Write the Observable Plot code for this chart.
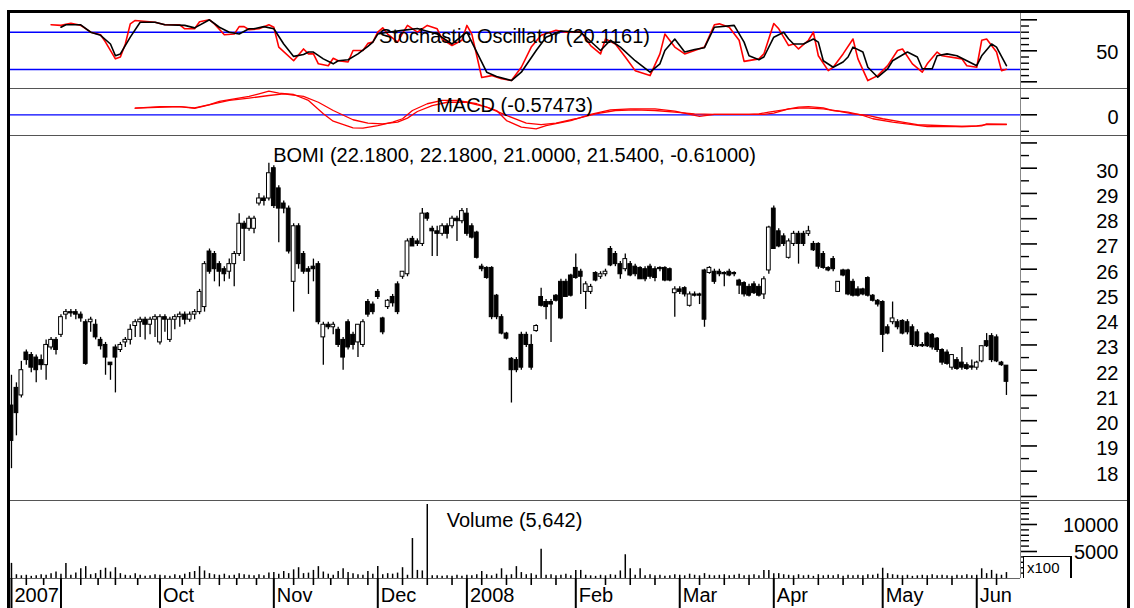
<!DOCTYPE html>
<html><head><meta charset="utf-8">
<script src="https://cdn.jsdelivr.net/npm/d3@7"></script>
<script src="https://cdn.jsdelivr.net/npm/@observablehq/plot@0.6"></script>
<style>
body{margin:0;background:#fff;}
#chart{position:relative;width:1134px;height:608px;overflow:hidden;background:#fff;font-family:"Liberation Sans",Arial,sans-serif;}
#chart svg{position:absolute;left:0;overflow:visible;}
.ln{position:absolute;}
</style></head><body><div id="chart"></div>
<script>
// ---- data ----
const opens = [20.6,21.3,21.0,22.7,22.6,22.5,22.4,22.2,22.9,23.2,
23.4,24.2,24.3,24.3,24.2,23.9,23.9,23.8,23.2,23.0,
22.3,22.9,22.8,23.1,23.2,23.75,23.9,24.0,23.8,24.0,
23.1,24.1,23.2,24.0,24.1,24.2,24.0,24.2,24.3,24.5,
26.7,26.6,26.2,26.0,25.9,26.2,26.6,27.8,27.6,27.6,
28.6,28.8,28.8,30.0,29.2,28.6,28.4,25.5,27.7,26.6,
26.0,26.1,26.2,23.3,23.8,23.7,23.6,23.2,23.9,23.4,
23.1,23.0,24.7,24.6,25.1,24.05,24.5,24.9,25.4,25.7,
25.8,27.2,27.1,27.0,28.2,27.6,27.5,27.4,27.7,27.7,
28.0,27.9,28.2,27.7,27.45,26.1,26.05,26.05,24.95,24.1,
23.45,22.45,22.4,23.4,23.4,23.0,23.55,24.9,24.7,24.7,
24.95,25.5,25.5,25.75,26.05,25.9,25.1,25.1,25.85,25.7,
25.8,26.8,26.6,26.2,26.0,26.2,26.1,26.05,26.0,26.1,
26.0,26.05,26.05,26.0,25.05,25.2,25.25,24.55,25.0,25.0,
25.95,25.85,25.9,25.9,25.85,25.9,25.85,25.55,25.45,25.3,
25.4,25.3,25.0,25.95,28.4,27.5,27.3,26.45,27.0,27.4,
27.4,27.4,27.0,27.0,26.6,26.05,26.4,25.1,25.95,25.95,
25.5,25.2,25.2,25.65,24.95,24.75,24.7,23.7,23.9,23.9,
23.95,23.9,23.7,23.5,23.0,23.45,23.4,23.25,22.8,22.7,
22.1,22.4,22.3,22.2,22.15,22.1,22.35,23.15,23.35,23.3,
22.3,22.18];
const highs = [21.8,21.5,22.35,22.8,22.7,22.6,22.6,23.2,23.3,23.3,
24.2,24.4,24.4,24.4,24.3,24.0,24.1,24.0,23.3,23.1,
22.3,23.0,23.1,23.3,23.8,24.0,24.1,24.1,24.1,24.2,
24.2,24.2,24.1,24.2,24.3,24.3,24.3,24.4,25.2,26.3,
26.8,26.7,26.3,26.1,26.4,26.7,28.2,27.9,28.1,28.1,
29.0,28.9,30.2,30.1,29.3,28.7,28.5,27.8,27.8,26.7,
26.1,26.4,26.3,23.9,23.9,23.9,23.7,23.3,24.0,23.5,
23.8,24.0,24.8,24.7,25.2,24.1,24.8,25.0,25.5,25.9,
27.2,27.3,27.2,28.4,28.25,27.7,27.7,27.8,27.8,28.1,
28.1,28.4,28.4,27.8,27.5,26.2,26.1,26.1,25.0,24.2,
23.5,22.5,22.5,23.5,23.5,23.4,23.8,25.25,24.8,24.8,
25.0,25.6,25.6,25.8,26.6,26.0,25.5,25.4,25.9,25.9,
26.0,26.9,26.7,26.3,26.6,26.3,26.2,26.1,26.1,26.2,
26.1,26.1,26.1,26.05,25.3,25.3,25.3,25.1,25.1,25.05,
26.0,26.1,26.0,26.0,25.9,26.0,25.9,25.6,25.5,25.4,
25.5,25.4,25.7,27.7,28.5,27.6,27.4,27.2,27.5,27.5,
27.5,27.7,27.1,27.05,26.7,26.1,26.5,25.5,26.0,26.0,
25.6,25.3,25.25,25.7,25.0,24.8,24.75,23.8,24.7,24.0,
24.0,24.0,23.8,23.6,23.1,23.5,23.45,23.3,22.85,22.8,
22.6,22.5,22.9,22.3,22.4,22.35,22.95,23.45,23.45,23.4,
22.35,22.18];
const lows = [18.1,19.4,20.9,22.2,21.9,21.5,22.0,21.6,22.8,22.6,
23.3,24.0,24.1,24.0,23.9,22.2,23.5,23.2,22.8,21.8,
21.6,21.1,22.7,22.9,23.0,23.3,23.3,23.2,23.4,23.3,
23.0,23.5,23.1,23.6,23.7,23.8,23.9,24.0,24.2,24.3,
25.8,25.5,25.3,25.5,25.6,25.3,26.5,26.3,27.5,27.4,
28.5,28.5,28.7,28.4,27.05,28.2,26.6,24.3,26.0,25.8,
25.0,25.5,23.8,22.2,23.6,23.4,22.9,22.0,22.8,22.8,
22.5,22.9,24.1,24.2,24.8,23.4,24.4,24.5,24.2,25.6,
25.7,26.9,26.9,26.9,27.9,26.5,26.5,27.3,27.2,27.6,
27.1,27.8,27.3,27.2,26.4,25.9,25.6,24.0,24.0,23.4,
23.2,20.7,21.9,22.0,22.9,22.0,23.5,24.5,24.0,23.1,
24.7,24.0,24.9,24.9,25.6,25.0,24.4,25.0,25.5,25.6,
25.7,26.1,26.1,25.6,25.9,25.7,25.7,25.6,25.5,25.6,
25.5,25.9,25.5,25.5,24.1,25.0,24.9,24.5,24.9,24.6,
23.7,25.8,25.4,25.7,25.3,25.7,25.7,25.0,24.9,24.9,
25.0,24.9,24.8,25.8,26.8,26.85,26.9,26.4,26.9,26.2,
26.9,27.3,26.7,26.0,26.0,25.9,25.9,25.1,25.7,24.95,
24.9,24.9,24.95,24.9,24.7,24.5,22.7,23.4,23.8,23.6,
23.4,23.4,22.9,22.9,22.9,22.9,22.8,22.7,22.2,22.2,
22.0,22.0,22.0,22.0,22.0,22.0,22.3,22.9,22.3,22.3,
22.15,21.0];
const closes = [19.2,20.3,22.0,22.4,22.1,22.0,22.2,23.0,23.2,22.8,
24.1,24.3,24.25,24.2,24.05,22.25,24.0,23.3,22.95,22.5,
22.2,22.5,23.0,23.2,23.6,23.9,24.0,23.8,24.0,24.1,
24.1,24.0,24.0,24.1,24.2,24.0,24.2,24.3,25.1,26.2,
25.9,26.0,25.9,25.8,26.2,26.6,27.8,27.6,28.0,28.0,
28.8,28.7,29.8,28.5,28.4,28.4,26.7,27.7,26.2,25.9,
25.9,26.0,23.9,23.8,23.7,23.8,23.0,22.5,22.9,23.0,
23.8,23.9,24.2,24.3,24.9,23.5,24.75,24.65,24.3,25.9,
27.1,26.9,27.0,28.2,28.0,27.5,27.4,27.7,27.4,28.0,
27.9,28.3,27.4,27.25,26.45,26.0,25.65,24.1,24.1,23.45,
23.25,22.0,22.0,22.1,23.0,22.1,23.75,24.55,24.5,24.6,
24.75,24.05,24.9,24.95,25.65,25.7,25.4,25.3,25.55,25.8,
25.9,26.15,26.2,25.8,26.4,25.75,25.8,25.6,25.6,25.7,
25.65,26.0,25.55,25.55,25.2,25.1,25.0,25.0,24.95,24.95,
24.0,26.05,25.5,25.8,25.8,25.75,25.8,25.35,25.0,24.95,
25.05,24.95,25.6,27.65,26.8,26.9,27.0,27.1,27.4,27.0,
27.0,27.5,26.75,26.1,26.05,25.95,26.0,25.5,25.75,25.0,
24.95,24.95,25.0,24.95,24.75,24.6,23.4,23.45,24.05,23.7,
23.45,23.5,23.0,22.95,22.95,22.95,22.9,22.8,22.3,22.25,
22.6,22.05,22.1,22.05,22.1,22.3,22.95,22.95,22.4,22.35,
22.2,21.54];
const volumes = [2800,700,500,600,400,500,700,600,900,1200,
800,2800,600,1000,1800,2200,700,900,1500,1900,
1200,2000,900,600,500,900,600,400,500,700,
600,500,400,700,500,800,1100,1300,2200,1400,
900,700,600,800,500,600,900,700,600,500,
700,500,1000,1100,800,1300,900,1600,2000,900,
1000,1500,2200,1200,800,600,1300,1800,1100,900,
700,600,1300,800,2200,700,900,800,1000,2000,
600,7400,1500,1400,13700,500,500,400,500,400,
600,400,600,500,700,1300,700,500,800,1800,
600,700,2200,1100,700,900,600,5400,600,700,
500,600,800,500,1500,1500,600,500,400,600,
500,700,600,1400,4400,1800,600,1800,500,700,
500,600,400,500,700,600,500,800,600,500,
900,600,500,600,700,500,600,800,500,600,
700,500,1500,1500,900,900,700,600,500,700,
500,600,400,700,500,600,500,700,400,600,
500,600,500,700,600,800,1900,900,700,600,
500,600,400,500,600,500,700,500,600,500,
400,600,500,700,500,600,1800,900,1500,800,
600,1100];
const stochK = [[8,92],[10,91],[12,94.5],[14,91],[16,80],[18,76],[19,64],[21,37],[22,40],[23,61],[24,93.5],[25,99],[29,96],[31,92],[34,92],[35,85.5],[37,85.5],[38,97],[40,100],[41,93.5],[43,76],[45,77],[46,89],[47,89],[48,84],[50,85.5],[52,92],[53,88],[54,56],[57,34],[59,53],[60,45],[61,45],[62,29],[64,26],[65,38],[66,34],[68,32],[69,50.5],[71,50.5],[72,62],[73,64],[74,80],[75,87],[76,77],[78,64],[79,78],[80,91],[82,80],[84,91],[86,85.5],[87,69],[89,58.5],[91,67],[92,91],[93,77],[95,7],[97,10],[99,5],[101,2],[103,23.5],[105,56],[107,75],[110,83],[112,80],[115,81],[117,58.5],[119,45],[120,69],[122,61],[124,40],[126,18],[129,10],[131,45],[132,77],[134,56],[136,45],[138,50.5],[140,56],[142,92],[143,93.5],[145,88],[147,67],[148,33],[151,37],[152,45],[154,94],[155,85.5],[157,58.5],[158,61],[159,53],[161,67],[162,80],[163,42],[165,18],[166,23.5],[168,45],[170,69],[171,37],[173,2],[175,10],[177,26],[179,50.5],[180,53],[182,29],[184,15.5],[185,29],[187,48],[188,42],[192,37],[193,26],[195,23.5],[196,67],[197,69],[199,48],[200,18],[201,20.1]];
const stochD = [[10,88],[11,92],[14,92],[16,80],[18,75],[20,61],[21,42],[22,45],[24,72],[26,96],[29,96],[31,92],[35,91],[37,87],[40,100],[42,88],[44,80],[46,77],[48,85.5],[49,85.5],[51,89],[53,85.5],[55,61],[57,41],[59,44],[60,48],[61,48],[63,37],[65,29],[66,34],[68,35.5],[70,45],[72,57],[73,64],[74,77],[76,80],[79,83],[82,86],[86,77],[89,61],[92,80],[96,15.5],[98,8.5],[101,2],[103,15.5],[106,50.5],[108,72],[111,82],[115,80],[119,50.5],[121,67],[123,56],[126,34],[129,15.5],[131,29],[132,50.5],[134,69],[136,48],[138,52],[140,55],[142,88],[146,91],[148,64],[149,42],[151,35.5],[152,40],[154,72],[156,80],[157,69],[158,61],[160,61],[162,69],[163,64],[164,34],[166,23.5],[168,32],[169,40],[170,56],[172,48],[173,23.5],[175,7.4],[177,21],[178,34],[181,48],[183,40],[184,21],[186,21],[187,42],[189,45],[191,42],[193,34],[195,26],[196,42],[198,61],[199,56],[201,26]];
const macdLine = [[25,0.40],[30,0.50],[34,0.50],[37,0.42],[40,0.62],[42,0.81],[45,0.97],[48,1.11],[50,1.27],[52,1.43],[54,1.31],[57,1.23],[60,0.87],[63,0.06],[65,-0.39],[69,-0.79],[71,-0.81],[74,-0.65],[77,-0.45],[79,-0.24],[81,0.26],[84,0.67],[87,0.87],[90,0.87],[94,0.67],[98,0.26],[100,-0.35],[103,-0.75],[106,-0.85],[108,-0.65],[113,-0.35],[117,0.02],[121,0.30],[125,0.36],[130,0.36],[134,0.22],[139,-0.10],[142,0.02],[149,0.02],[151,0.06],[153,0.16],[156,0.30],[159,0.46],[161,0.50],[164,0.42],[166,0.26],[169,0.16],[172,-0.04],[174,-0.24],[178,-0.45],[182,-0.59],[185,-0.71],[189,-0.71],[193,-0.71],[196,-0.67],[197,-0.55],[201,-0.57]];
const signalLine = [[25,0.40],[34,0.50],[37,0.39],[41,0.67],[44,0.87],[48,1.01],[52,1.17],[55,1.27],[59,1.11],[62,0.76],[65,0.26],[69,-0.30],[72,-0.51],[75,-0.55],[78,-0.45],[80,-0.20],[82,0.20],[85,0.56],[88,0.76],[92,0.76],[96,0.46],[100,-0.04],[104,-0.51],[107,-0.59],[110,-0.51],[114,-0.24],[118,0.06],[122,0.26],[126,0.30],[130,0.26],[134,0.16],[138,0.06],[142,0.02],[149,0.02],[152,0.02],[154,0.10],[157,0.36],[160,0.42],[164,0.36],[167,0.22],[170,0.06],[173,-0.04],[176,-0.24],[180,-0.45],[183,-0.59],[187,-0.65],[192,-0.71],[195,-0.67],[197,-0.59],[201,-0.59]];
const monthIdx = [0,10,30,53,74,92,114,135,154,176,195];
const monthLabels = ["2007","","Oct","Nov","Dec","2008","Feb","Mar","Apr","May","Jun"];
const weekIdx = [3,6.5,14,17.5,21,25.5,34.5,38,42,45.5,49.5,57,61,64.5,68,72,79,84,89,95,100,105,110,120,125,130,139,144,149,158,163,168,172,180,185,190,199];
const priceMajor = [17,18,19,20,21,22,23,24,25,26,27,28,29,30,31];
const priceMinor = [17.5,18.5,19.5,20.5,21.5,22.5,23.5,24.5,25.5,26.5,27.5,28.5,29.5,30.5];
const priceLabels = [18,19,20,21,22,23,24,25,26,27,28,29,30];
const stochMajor = [0,50,100];
const stochMinor = [10,20,30,40,60,70,80,90];
const stochBands = [20,80];
const macdMajor = [0];
const macdMinor = [-1,1];
const volMajor = [5000,10000];
const volMinor = [1000,2000,3000,4000,6000,7000,8000,9000,11000,12000,13000,14000];
const titles = {
  stoch: "Stochastic Oscillator (20.1161)",
  macd: "MACD (-0.57473)",
  price: "BOMI (22.1800, 22.1800, 21.0000, 21.5400, -0.61000)",
  volume: "Volume (5,642)"
};

// ---- build ----
const bars = closes.map((c, i) => ({i, open: opens[i], high: highs[i], low: lows[i], close: c, vol: volumes[i]}));
const chart = document.getElementById("chart");
const FONT = "Liberation Sans, Arial, sans-serif";
const style = {fontFamily: FONT, fontSize: "20px", background: "transparent", color: "black", overflow: "visible"};
const X = {domain: [-0.6, 203.84], axis: null};
const base = {width: 1134, marginLeft: 8, marginRight: 114, style};
const none = () => "";
function rightAxes(major, minor, labels, dy, fmt) {
  return [
    Plot.axisY({anchor: "right", ticks: major, tickSize: 16, tickFormat: none, strokeWidth: 1.6, label: null}),
    Plot.axisY({anchor: "right", ticks: minor, tickSize: 8, tickFormat: none, strokeWidth: 1.4, label: null}),
    Plot.axisY({anchor: "right", ticks: labels, tickSize: 0, tickPadding: 98, textAnchor: "end", dy, fontSize: 20, label: null, tickFormat: fmt || (d => String(d))})
  ];
}
function title(t, dy) {
  return Plot.text([t], {text: d => d, frameAnchor: "top", lineAnchor: "middle", dy, fontSize: 20, fill: "black"});
}
function place(svg, top) { svg.style.top = top + "px"; chart.appendChild(svg); }

const stoch = Plot.plot({...base, height: 76, marginTop: 0, marginBottom: 0, x: X,
  y: {domain: [-10.8, 111.8], axis: null},
  marks: [
    Plot.ruleY(stochBands, {stroke: "#0000ff", strokeWidth: 1.5}),
    Plot.line(stochK, {x: d => d[0], y: d => d[1], stroke: "#ff0000", strokeWidth: 1.6, clip: true}),
    Plot.line(stochD, {x: d => d[0], y: d => d[1], stroke: "black", strokeWidth: 1.6, clip: true}),
    ...rightAxes(stochMajor, stochMinor, [50], 2),
    title(titles.stoch, 24)
  ]});
place(stoch, 12);

const macd = Plot.plot({...base, height: 46, marginTop: 0, marginBottom: 0, x: X,
  y: {domain: [-1.2545, 1.533], axis: null},
  marks: [
    Plot.ruleY([0], {stroke: "#0000ff", strokeWidth: 1.2}),
    Plot.line(signalLine, {x: d => d[0], y: d => d[1], stroke: "#ff0000", strokeWidth: 1.3, clip: true}),
    Plot.line(macdLine, {x: d => d[0], y: d => d[1], stroke: "#ff0000", strokeWidth: 1.3, clip: true}),
    ...rightAxes(macdMajor, macdMinor, [0], 3),
    title(titles.macd, 16)
  ]});
place(macd, 89);

const price = Plot.plot({...base, height: 364, marginTop: 0, marginBottom: 0, x: X,
  y: {domain: [16.84, 31.255], axis: null},
  marks: [
    Plot.ruleX(bars, {x: "i", y1: "low", y2: "high", stroke: "black", strokeWidth: 1.3}),
    Plot.rect(bars.filter(d => d.close >= d.open), {x1: d => d.i - 0.38, x2: d => d.i + 0.38, y1: "open", y2: "close", fill: "white", stroke: "black", strokeWidth: 1}),
    Plot.rect(bars.filter(d => d.close < d.open), {x1: d => d.i - 0.38, x2: d => d.i + 0.38, y1: "open", y2: "close", fill: "black", stroke: "black", strokeWidth: 1}),
    ...rightAxes(priceMajor, priceMinor, priceLabels, 3),
    title(titles.price, 19)
  ]});
place(price, 136);

const volume = Plot.plot({...base, height: 108, marginTop: 0, marginBottom: 30, x: X,
  y: {domain: [0, 14444], axis: null},
  marks: [
    Plot.ruleX(bars, {x: "i", y1: 0, y2: "vol", stroke: "black", strokeWidth: 1.5}),
    Plot.ruleY([0], {stroke: "#666", strokeWidth: 1}),
    ...rightAxes(volMajor, volMinor, volMajor, 1),
    Plot.axisX({ticks: weekIdx, tickSize: 7, tickFormat: none, strokeWidth: 1.6, label: null}),
    Plot.axisX({ticks: monthIdx, tickSize: 30, tickFormat: none, strokeWidth: 2, label: null}),
    Plot.axisX({ticks: monthIdx, tickSize: 0, tickPadding: 9, textAnchor: "start", dx: 3, fontSize: 20, label: null,
      tickFormat: d => monthLabels[monthIdx.indexOf(d)]}),
    title(titles.volume, 20)
  ]});
place(volume, 500);

// ---- frame decorations ----
function line(l, t, w, h, c) {
  const d = document.createElement("div");
  d.className = "ln";
  Object.assign(d.style, {left: l + "px", top: t + "px", width: w + "px", height: h + "px", background: c});
  chart.appendChild(d);
}
line(1020, 12, 1, 566, "#888");
line(9, 88, 1118, 1, "#555");
line(9, 135, 1118, 1, "#555");
line(9, 500, 1118, 1, "#555");
line(7, 10, 1123, 3, "#000");
line(7, 10, 3, 598, "#000");
line(1127, 10, 3, 598, "#000");
const box = document.createElement("div");
Object.assign(box.style, {position: "absolute", left: "1023px", top: "556px", width: "49px", height: "22px",
  borderTop: "1.5px solid #000", borderLeft: "1.5px solid #000", borderRight: "2px solid #000",
  fontFamily: FONT, fontSize: "15px", lineHeight: "22px", paddingLeft: "3px", boxSizing: "border-box", background: "#fff"});
box.textContent = "x100";
chart.appendChild(box);
</script></body></html>
